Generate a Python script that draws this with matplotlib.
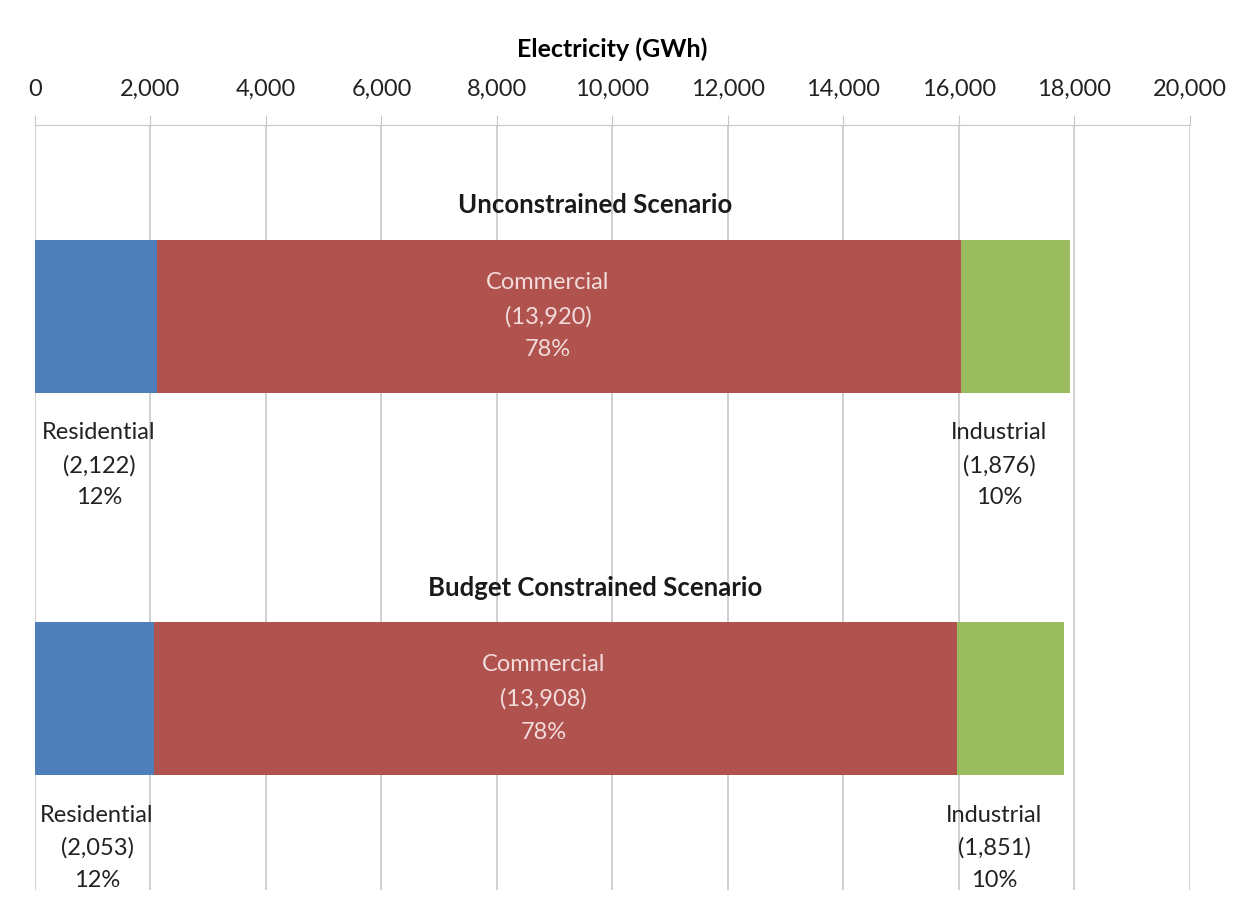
import matplotlib.pyplot as plt
import numpy as np

plt.rcParams['font.family'] = ['Lato', 'DejaVu Sans']

scenarios = ['Unconstrained Scenario', 'Budget Constrained Scenario']
sectors = ['Residential', 'Commercial', 'Industrial']
residential = [2122, 2053]
commercial = [13920, 13908]
industrial = [1876, 1851]
shares = {'Residential': ['12%', '12%'],
          'Commercial': ['78%', '78%'],
          'Industrial': ['10%', '10%']}
ticks = np.arange(0, 20001, 2000)

colors = {'Residential': '#4f7fba', 'Commercial': '#b0524e', 'Industrial': '#9bbb5f'}

fig = plt.figure(figsize=(12.48, 9.07), dpi=100)
ax = fig.add_axes([0.028, 0.019, 0.9255, 0.843])

y = np.arange(len(scenarios))
h = 0.40
left = np.zeros(len(scenarios))
values = {'Residential': residential, 'Commercial': commercial, 'Industrial': industrial}
for s in sectors:
    v = np.array(values[s])
    ax.barh(y, v, left=left, height=h, color=colors[s], zorder=3)
    left = left + v

ax.set_xlim(0, 20000)
ax.set_ylim(1.5, -0.5)
ax.set_xticks(ticks)
ax.set_xticklabels([f'{t:,}' for t in ticks], fontsize=17, color='#222222')
ax.xaxis.tick_top()
ax.xaxis.set_label_position('top')
ax.set_xlabel('Electricity (GWh)', fontsize=18, fontweight='bold', labelpad=16)
ax.tick_params(axis='x', direction='out', length=7, color='#c8c8c8', pad=11)
ax.set_yticks([])
ax.grid(axis='x', color='#c8c8c8', linewidth=1.2, zorder=0)
for side in ['right', 'bottom', 'left']:
    ax.spines[side].set_visible(False)
ax.spines['top'].set_color('#c8c8c8')

for i, name in enumerate(scenarios):
    ax.text(9700, i - 0.29, name, ha='center', va='center', fontsize=18.5, fontweight='bold',
            color='#1a1a1a')
    r = residential[i]
    c = commercial[i]
    ind = industrial[i]
    ax.text(r / 2 + 50, i + 0.39,
            f"Residential\n({r:,})\n{shares['Residential'][i]}",
            ha='center', va='center', fontsize=17, linespacing=1.65, color='#222222')
    ax.text(r + c / 2 - 200, i,
            f"Commercial\n({c:,})\n{shares['Commercial'][i]}",
            ha='center', va='center', fontsize=17, linespacing=1.72, color='#f2dcdb', zorder=4)
    ax.text(r + c + ind / 2 - 280, i + 0.39,
            f"Industrial\n({ind:,})\n{shares['Industrial'][i]}",
            ha='center', va='center', fontsize=17, linespacing=1.65, color='#222222')

fig.savefig('out.png', dpi=100)
